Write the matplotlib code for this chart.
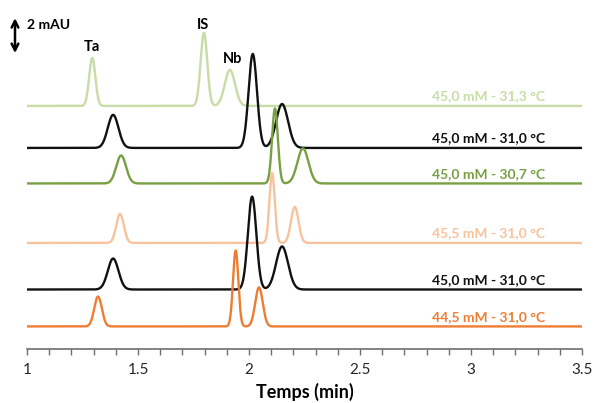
import numpy as np
import matplotlib
matplotlib.use("Agg")
import matplotlib.pyplot as plt

plt.rcParams['font.family'] = ['Lato', 'DejaVu Sans']

# ---------------- data ----------------
labels = ["45,0 mM - 31,3 °C", "45,0 mM - 31,0 °C", "45,0 mM - 30,7 °C",
          "45,5 mM - 31,0 °C", "45,0 mM - 31,0 °C", "44,5 mM - 31,0 °C"]
colors = ["#c8dca6", "#111111", "#78a043", "#f8c29c", "#111111", "#ee7d32"]
baselines = [13.89, 11.49, 9.46, 6.06, 3.40, 1.29]          # mAU (stacked offsets)
t_Ta = [1.294, 1.388, 1.424, 1.419, 1.388, 1.320]           # retention times (min)
t_IS = [1.797, 2.017, 2.117, 2.104, 2.014, 1.940]
t_Nb = [1.914, 2.149, 2.243, 2.206, 2.149, 2.045]
h_Ta = [2.74, 1.89, 1.60, 1.66, 1.77, 1.71]                 # peak heights (mAU)
h_IS = [4.17, 5.37, 4.29, 4.00, 5.31, 4.34]
h_Nb = [2.06, 2.51, 2.00, 2.06, 2.46, 2.23]
w_Ta = [0.014, 0.024, 0.022, 0.017, 0.024, 0.017]           # peak sigma (min)
w_IS = [0.015, 0.019, 0.013, 0.012, 0.019, 0.012]
w_Nb = [0.023, 0.027, 0.025, 0.017, 0.027, 0.017]
xticks = [1, 1.5, 2, 2.5, 3, 3.5]

# ---------------- figure ----------------
fig = plt.figure(figsize=(5.93, 4.03), dpi=100)
ax = fig.add_axes([27/593, 1 - 349/403, 555/593, 339/403])

t = np.linspace(1.0, 3.5, 2500)
for i in range(len(labels)):
    y = np.full_like(t, baselines[i])
    for tc, h, s in ((t_Ta[i], h_Ta[i], w_Ta[i]), (t_IS[i], h_IS[i], w_IS[i]),
                     (t_Nb[i], h_Nb[i], w_Nb[i])):
        y = y + h * np.exp(-0.5 * ((t - tc) / s) ** 2)
    ax.plot(t, y, color=colors[i], lw=1.7, solid_capstyle='round')
    ax.text(3.333, baselines[i] + 0.55, labels[i], color=colors[i],
            ha='right', va='center', fontsize=10, fontweight='bold')

# peak annotations on the top trace
ax.text(t_Ta[0], baselines[0] + h_Ta[0] + 0.65, "Ta", ha='center', va='center',
        fontsize=10.5, fontweight='bold')
ax.text(t_IS[0] - 0.005, baselines[0] + h_IS[0] + 0.45, "IS", ha='center', va='center',
        fontsize=10.5, fontweight='bold')
ax.text(t_Nb[0] + 0.01, baselines[0] + h_Nb[0] + 0.6, "Nb", ha='center', va='center',
        fontsize=10.5, fontweight='bold')

ax.set_xlim(1, 3.5)
ax.set_ylim(0, 339 / 17.5)
ax.set_xticks(xticks)
ax.set_xticklabels([f"{v:g}" for v in xticks])
ax.set_xticks(np.arange(1.0, 3.501, 0.1), minor=True)
ax.tick_params(axis='x', which='both', direction='out', length=4, width=1,
               color='#6e6e6e', labelsize=11, labelcolor='#262626', pad=6)
ax.set_yticks([])
for s in ('left', 'right', 'top'):
    ax.spines[s].set_visible(False)
ax.spines['bottom'].set_color('#6e6e6e')
ax.spines['bottom'].set_linewidth(1.2)
ax.set_xlabel("Temps (min)", fontsize=13, fontweight='bold', labelpad=4)

# 2 mAU scale bar
tr = ax.get_yaxis_transform()
ax.annotate("", xy=(-12/555, 18.91), xytext=(-12/555, 16.91), xycoords=tr, textcoords=tr,
            arrowprops=dict(arrowstyle='<->', lw=1.8, color='black',
                            mutation_scale=12, shrinkA=0, shrinkB=0),
            annotation_clip=False)
ax.text(0.0, 18.5, "2 mAU", transform=tr, ha='left', va='center', fontsize=10,
        fontweight='bold', clip_on=False)

fig.savefig("out.png", dpi=100)
